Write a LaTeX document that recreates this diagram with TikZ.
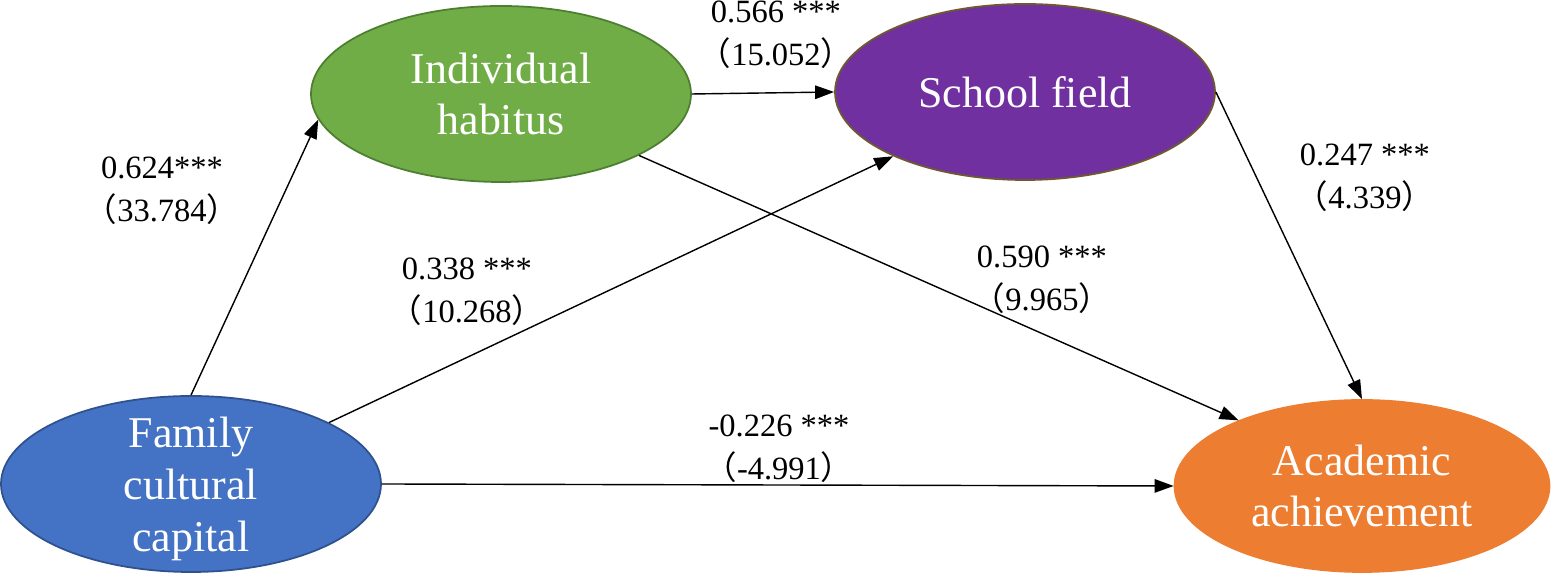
\documentclass[tikz,border=0pt]{standalone}
\usepackage{fontspec}
\setmainfont{Liberation Serif}
\newfontfamily\cjk{Noto Sans CJK SC}
\usetikzlibrary{arrows.meta,positioning,shapes.geometric}
\definecolor{famBlue}{HTML}{4472C4}
\definecolor{famBlueDark}{HTML}{2F528F}
\definecolor{habGreen}{HTML}{70AD47}
\definecolor{habGreenDark}{HTML}{4E7F30}
\definecolor{schPurple}{HTML}{7030A0}
\definecolor{schBrown}{HTML}{6E5A2E}
\definecolor{achOrange}{HTML}{ED7D31}
\newcommand{\parL}{{\cjk （}}
\newcommand{\parR}{{\cjk ）}}

\begin{document}
\begin{tikzpicture}[font=\fontsize{18.5}{24.4}\selectfont]
    \tikzset{latent/.style={ellipse,line width=1pt,minimum width=7.6cm,minimum height=3.52cm,inner sep=0pt},
      ltext/.style={align=center,text=white,inner sep=0pt,font=\fontsize{25}{29.5}\selectfont},
      link/.style={-{Triangle[length=3.8mm,width=2.7mm]},line width=0.8pt},
      coef/.style={align=center,inner sep=1pt}}
    \useasboundingbox (0,0) rectangle (31.08,11.5);
    \node[latent,fill=famBlue,draw=famBlueDark] (fam) at (3.82,1.82) {};
    \node[latent,fill=habGreen,draw=habGreenDark] (hab) at (10.02,9.62) {};
    \node[latent,fill=schPurple,draw=schBrown] (sch) at (20.50,9.66) {};
    \node[latent,fill=achOrange,draw=achOrange,minimum width=7.5cm,minimum height=3.44cm] (ach) at (27.24,1.78) {};
    \node[ltext] (famtxt) at ([yshift=-0.1cm]fam.center) {Family\\ cultural\\ capital};
    \node[ltext] (habtxt) at (hab.center) {Individual\\ habitus};
    \node[ltext] (schtxt) at (sch.center) {School field};
    \node[ltext] (achtxt) at (ach.center) {Academic\\ achievement};
    % paths
    \draw[link] (fam.north) -- (hab.188);
    \draw[link] (fam.24) -- (sch.206);
    \draw[link] (hab.east) -- (sch.west);
    \draw[link] (hab.-24) -- (ach.152);
    \draw[link] (sch.east) -- (ach.north);
    \draw[link] (fam.east) -- (ach.west);
    % coefficients
    \node[coef] (c1) at (3.24,7.68) {0.624***\\ \parL 33.784\parR};
    \node[coef] (c2) at (9.34,5.66) {0.338 ***\\ \parL 10.268\parR};
    \node[coef] (c3) at (15.52,10.8) {0.566 ***\\ \parL 15.052\parR};
    \node[coef] (c4) at (20.84,5.9) {0.590 ***\\ \parL 9.965\parR};
    \node[coef] (c5) at (27.3,7.94) {0.247 ***\\ \parL 4.339\parR};
    \node[coef] (c6) at (15.58,2.52) {-0.226 ***\\ \parL -4.991\parR};
  \end{tikzpicture}
\end{document}
